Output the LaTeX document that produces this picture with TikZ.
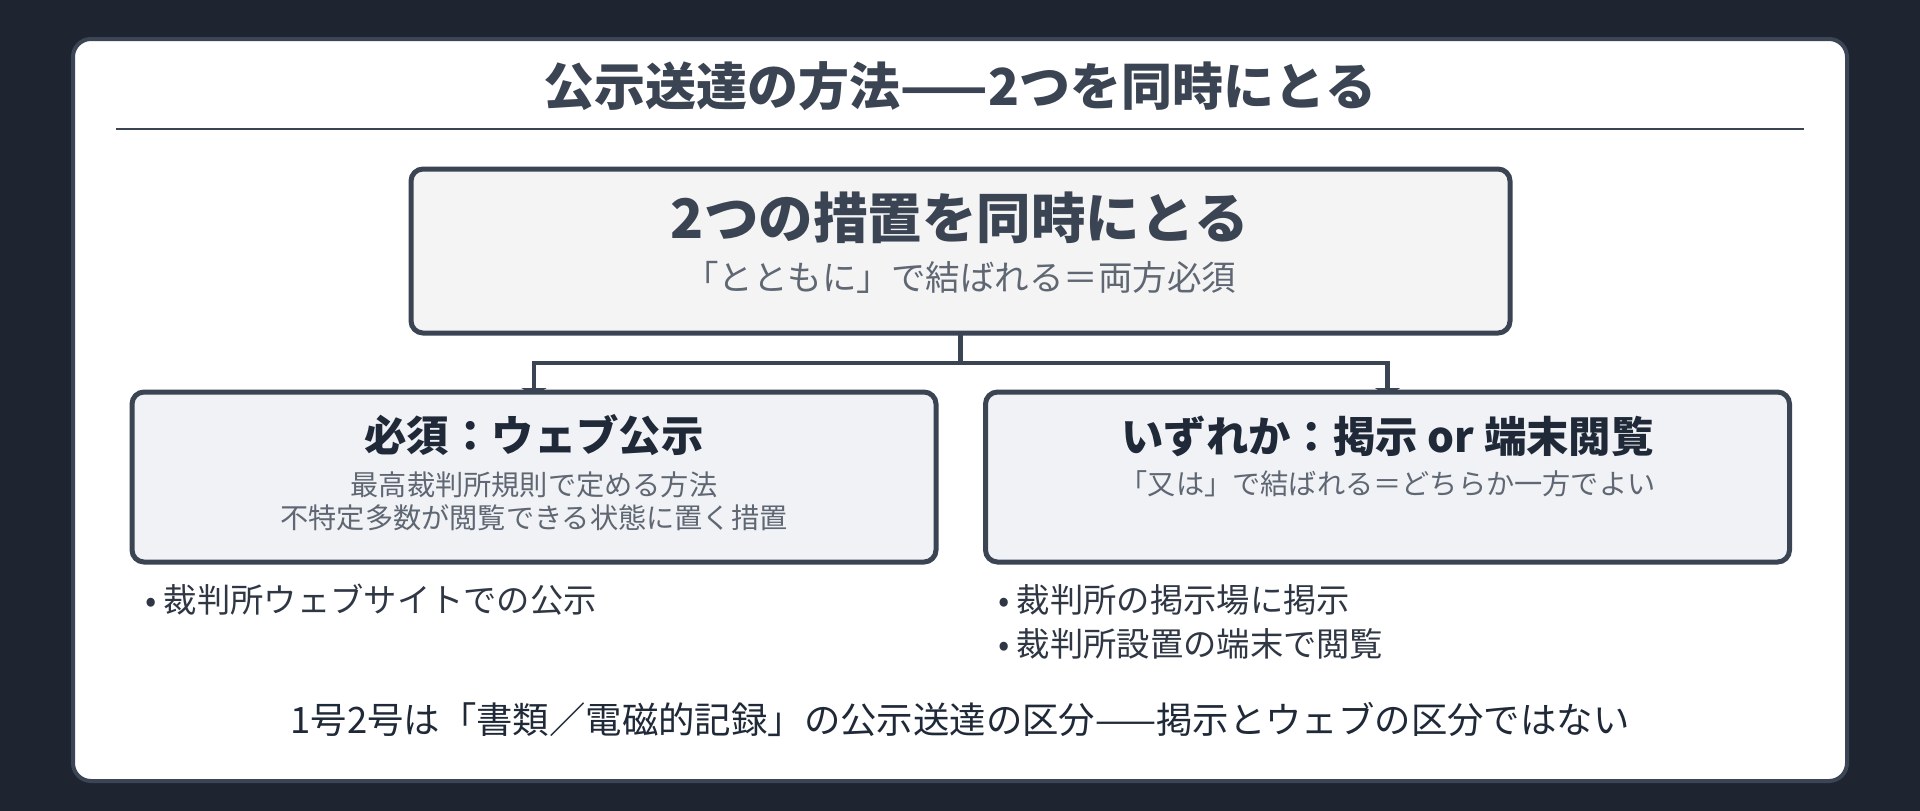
\documentclass[tikz,border=0pt]{standalone}
\usepackage{fontspec}
\setmainfont{Noto Sans CJK JP}
\usetikzlibrary{arrows.meta}
\definecolor{bgdark}{HTML}{1F2530}
\definecolor{cardline}{HTML}{3B4555}
\definecolor{slate}{HTML}{3B4452}
\definecolor{ink}{HTML}{1F2937}
\definecolor{subgray}{HTML}{5F6773}
\definecolor{topfill}{HTML}{F4F4F5}
\definecolor{sidefill}{HTML}{F0F2F6}
\definecolor{bullettext}{HTML}{2F3744}
\pgfdeclarelayer{bglayer}
\pgfdeclarelayer{connlayer}
\pgfsetlayers{bglayer,connlayer,main}
\tikzset{
  boxstyle/.style={draw=slate, line width=5pt, rounded corners=12pt, outer sep=0pt, inner sep=0pt},
  topbox/.style={boxstyle, fill=topfill, minimum width=1099pt, minimum height=164pt},
  sidebox/.style={boxstyle, fill=sidefill, minimum width=804pt, minimum height=170pt},
  connector/.style={draw=slate, line width=4.5pt, -{Triangle[length=8pt,width=25pt]}},
  maintitle/.style={font=\fontsize{51}{58}\selectfont\bfseries, text=slate, inner sep=0pt},
  toptitle/.style={font=\fontsize{54.5}{62}\selectfont\bfseries, text=slate, inner sep=0pt},
  topsub/.style={font=\fontsize{34.5}{40}\selectfont, text=subgray, inner sep=0pt},
  sidetitle/.style={font=\fontsize{42.4}{50}\selectfont\bfseries, text=ink, inner sep=0pt},
  sidesub/.style={font=\fontsize{28.2}{34}\selectfont, text=subgray, inner sep=0pt},
  bulletitem/.style={font=\fontsize{33.3}{38}\selectfont, text=bullettext, inner sep=0pt, anchor=west},
  footnote/.style={font=\fontsize{36.4}{42}\selectfont, text=ink, inner sep=0pt}
}
\begin{document}
\begin{tikzpicture}[x=1pt,y=-1pt]
\begin{pgfonlayer}{bglayer}
  \fill[bgdark] (0,0) rectangle (1920,811);
  \draw[draw=cardline, fill=white, line width=4pt, rounded corners=18pt] (73,39) rectangle (1847,781);
\end{pgfonlayer}
\useasboundingbox (0,0) rectangle (1920,811);

\node[maintitle] (title) at (960,86) {公示送達の方法——2つを同時にとる};
\draw[slate, line width=2.5pt] (116,129) coordinate (ruleL) -- (1804,129) coordinate (ruleR);

\node[topbox] (top) at (960.5,251) {};
\node[toptitle] (toptext) at (960,218) {2つの措置を同時にとる};
\node[topsub] (topsubtext) at (960,277) {「とともに」で結ばれる＝両方必須};

\node[sidebox] (lb) at (534,477) {};
\node[sidetitle] (lbtitle) at (534,435) {必須：ウェブ公示};
\node[sidesub] (lbsub1) at (534,485) {最高裁判所規則で定める方法};
\node[sidesub] (lbsub2) at (534,518) {不特定多数が閲覧できる状態に置く措置};

\node[sidebox] (rb) at (1387.5,477) {};
\node[sidetitle] (rbtitle) at (1387.5,436) {いずれか：掲示 or 端末閲覧};
\node[sidesub] (rbsub) at (1387.5,484) {「又は」で結ばれる＝どちらか一方でよい};

\begin{pgfonlayer}{connlayer}
  \draw[connector] (top.south) -- ++(0,30) -| ([yshift=-4pt]lb.north);
  \draw[connector] (top.south) -- ++(0,30) -| ([yshift=-4pt]rb.north);
\end{pgfonlayer}

\node[bulletitem] (lbul1) at (145,600) {• 裁判所ウェブサイトでの公示};
\node[bulletitem] (rbul1) at (998,600) {• 裁判所の掲示場に掲示};
\node[bulletitem] (rbul2) at (998,644) {• 裁判所設置の端末で閲覧};

\node[footnote] (foot) at (960,719) {1号2号は「書類／電磁的記録」の公示送達の区分——掲示とウェブの区分ではない};
\end{tikzpicture}
\end{document}
